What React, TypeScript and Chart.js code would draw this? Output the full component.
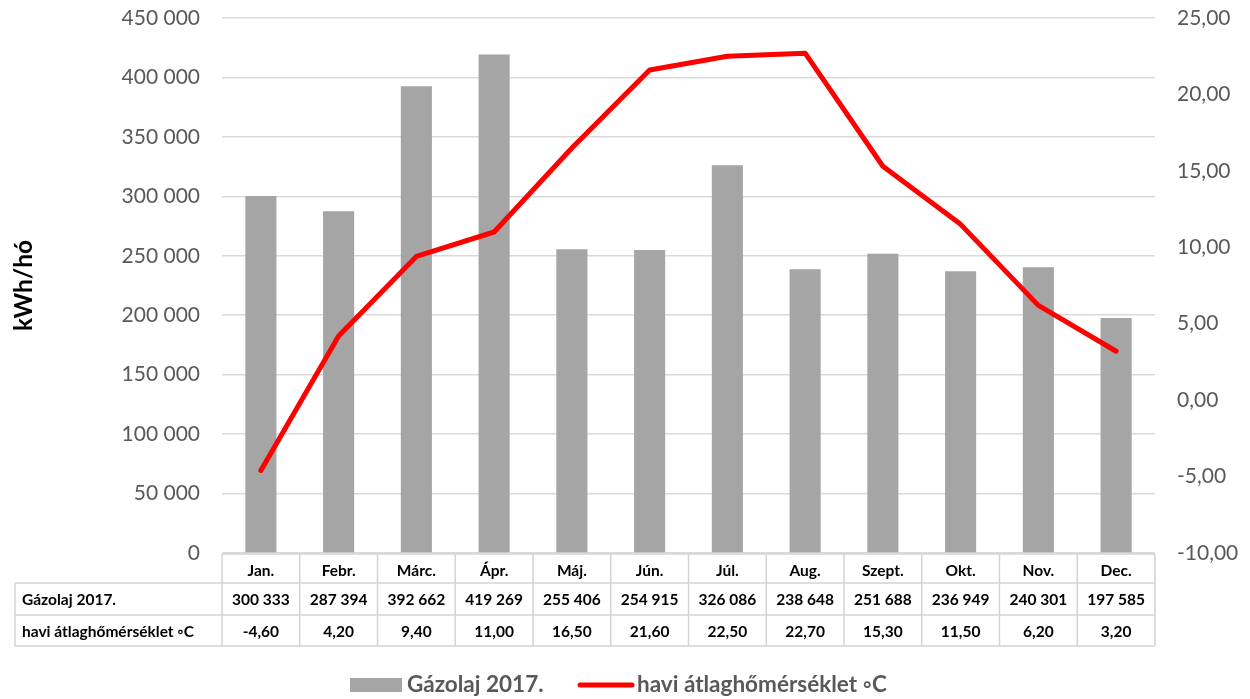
import React, { useEffect, useRef } from "react";
import { Chart, registerables } from "chart.js";

Chart.register(...registerables);

const months = ["Jan.", "Febr.", "Márc.", "Ápr.", "Máj.", "Jún.", "Júl.", "Aug.", "Szept.", "Okt.", "Nov.", "Dec."];
const gasOil = [300333, 287394, 392662, 419269, 255406, 254915, 326086, 238648, 251688, 236949, 240301, 197585];
const temps = [-4.6, 4.2, 9.4, 11.0, 16.5, 21.6, 22.5, 22.7, 15.3, 11.5, 6.2, 3.2];
const gasLabel = "Gázolaj 2017.";
const tempLabel = "havi átlaghőmérséklet ◦C";
const leftTitle = "kWh/hó";

const FONT = "Lato";
const fmtThousands = (v: number) => String(Math.round(v)).replace(/\B(?=(\d{3})+(?!\d))/g, " ");
const fmtTemp = (v: number) => v.toFixed(2).replace(".", ",");

const tablePlugin = {
  id: "dataTable",
  afterDraw(chart: any) {
    const ctx = chart.ctx as CanvasRenderingContext2D;
    const area = chart.chartArea;
    const x = chart.scales.x;
    const n = months.length;
    const colW = (area.right - area.left) / n;
    const top = area.bottom + 1;
    const r1 = top + 29;
    const r2 = r1 + 32;
    const r3 = r2 + 31;
    const labelLeft = 15;
    ctx.save();
    ctx.strokeStyle = "#d4d4d4";
    ctx.lineWidth = 1.5;
    ctx.beginPath();
    ctx.moveTo(area.left, top); ctx.lineTo(area.right, top);
    [r1, r2, r3].forEach((y) => { ctx.moveTo(labelLeft, y); ctx.lineTo(area.right, y); });
    for (let i = 0; i <= n; i++) {
      const xx = area.left + i * colW;
      ctx.moveTo(xx, top); ctx.lineTo(xx, r3);
    }
    ctx.moveTo(labelLeft, r1); ctx.lineTo(labelLeft, r3);
    ctx.stroke();

    ctx.fillStyle = "#000000";
    ctx.textBaseline = "middle";
    ctx.font = `bold 15.5px ${FONT}`;
    ctx.textAlign = "center";
    months.forEach((m, i) => {
      const cx = x.getPixelForValue(i);
      ctx.fillText(m, cx, (top + r1) / 2 + 2);
      ctx.fillText(fmtThousands(gasOil[i]), cx, (r1 + r2) / 2 + 1);
      ctx.fillText(fmtTemp(temps[i]), cx, (r2 + r3) / 2 + 1);
    });
    ctx.textAlign = "left";
    ctx.fillText(gasLabel, labelLeft + 7, (r1 + r2) / 2 + 1);
    ctx.fillText(tempLabel, labelLeft + 7, (r2 + r3) / 2 + 1);

    // legend
    const ly = 685;
    ctx.font = `bold 22.5px ${FONT}`;
    ctx.fillStyle = "#a5a5a5";
    ctx.fillRect(350, ly - 7, 52, 14);
    ctx.fillStyle = "#595959";
    ctx.fillText(gasLabel, 407, ly);
    ctx.strokeStyle = "#ff0000";
    ctx.lineWidth = 5;
    ctx.lineCap = "round";
    ctx.beginPath();
    ctx.moveTo(580, ly); ctx.lineTo(632, ly);
    ctx.stroke();
    ctx.fillText(tempLabel, 637, ly);
    ctx.restore();
  },
};

export default function App() {
  const ref = useRef<HTMLCanvasElement>(null);
  useEffect(() => {
    document.body.style.margin = "0";
    if (!ref.current) return;
    const chart = new Chart(ref.current, {
      type: "bar",
      data: {
        labels: months,
        datasets: [
          {
            type: "bar",
            label: gasLabel,
            data: gasOil,
            backgroundColor: "#a5a5a5",
            yAxisID: "y",
            categoryPercentage: 1,
            barPercentage: 0.4,
            order: 2,
          },
          {
            type: "line",
            label: tempLabel,
            data: temps,
            borderColor: "#ff0000",
            backgroundColor: "#ff0000",
            borderWidth: 5,
            pointRadius: 0,
            tension: 0,
            borderJoinStyle: "round",
            borderCapStyle: "round",
            yAxisID: "y1",
            order: 1,
          } as any,
        ],
      },
      options: {
        responsive: false,
        animation: false,
        devicePixelRatio: 1,
        layout: { padding: { top: 18, left: 0, right: 0, bottom: 0 } },
        plugins: { legend: { display: false }, tooltip: { enabled: false } },
        scales: {
          x: {
            offset: true,
            grid: { display: false },
            border: { display: false },
            ticks: { display: false },
            afterFit: (s: any) => { s.height = 146; },
          },
          y: {
            position: "left",
            min: 0,
            max: 450000,
            ticks: {
              stepSize: 50000,
              padding: 0,
              color: "#595959",
              font: { family: FONT, size: 21 },
              callback: (v: any) => fmtThousands(Number(v)),
            },
            grid: { color: "#d9d9d9", lineWidth: 1.5, drawTicks: true, tickLength: 22, tickColor: "rgba(0,0,0,0)" },
            border: { display: false },
            title: {
              display: true,
              text: leftTitle,
              color: "#000000",
              font: { family: FONT, size: 24.5, weight: "bold" },
              padding: { top: 9, bottom: 0 },
            },
            afterFit: (s: any) => { s.width = 222; },
          },
          y1: {
            position: "right",
            min: -10,
            max: 25,
            ticks: {
              stepSize: 5,
              padding: 0,
              color: "#595959",
              font: { family: FONT, size: 21 },
              callback: (v: any) => fmtTemp(Number(v)),
            },
            grid: { display: false, drawTicks: true, tickLength: 22, tickColor: "rgba(0,0,0,0)" },
            border: { display: false },
            afterFit: (s: any) => { s.width = 95; },
          },
        },
      } as any,
      plugins: [tablePlugin],
    });
    return () => chart.destroy();
  }, []);
  return (
    <div style={{ width: 1250, height: 699 }}>
      <canvas ref={ref} width={1250} height={699} />
    </div>
  );
}
